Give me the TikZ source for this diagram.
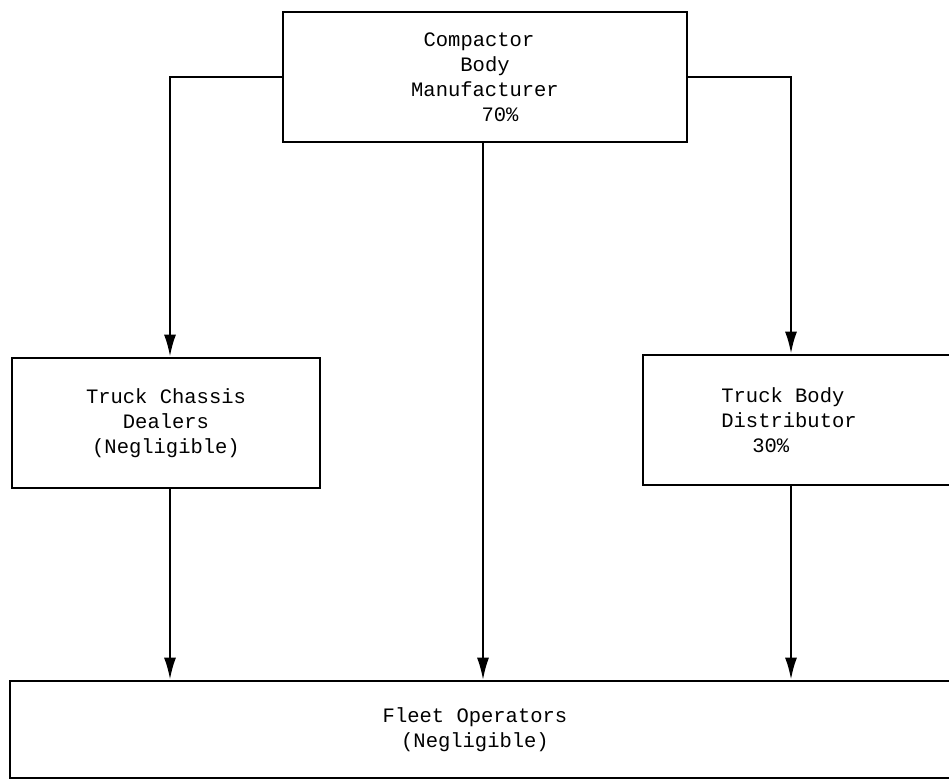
\documentclass[tikz,border=0pt]{standalone}
\usepackage{fontspec}
\setmonofont{Liberation Mono}
\usetikzlibrary{arrows.meta}
\begin{document}
\begin{tikzpicture}[x=1pt,y=-1pt,
  box/.style={draw, line width=2.6pt, rectangle, inner sep=0pt,
    font=\ttfamily\fontsize{20.5}{25}\selectfont, align=center},
  conn/.style={line width=2.3pt, -{Latex[length=22pt,width=12pt]}}]
\useasboundingbox (0,0) rectangle (949,781);
\node[box, minimum width=404pt, minimum height=130pt] (top) at (485,77)
  {Compactor\hspace*{12pt}\\Body\\Manufacturer\\\hspace*{30pt}70\%};
\node[box, minimum width=308pt, minimum height=130pt] (chassis) at (166,423)
  {Truck Chassis\\Dealers\\(Negligible)};
\node[box, minimum width=312pt, minimum height=130pt, align=left] (body) at (799,420)
  {\hspace*{-20pt}Truck Body\\\hspace*{-20pt}Distributor\\\hspace*{-20pt}\hspace*{31pt}30\%};
\node[box, minimum width=950pt, minimum height=97pt] (fleet) at (485,729.5)
  {Fleet Operators\hspace*{20pt}\\(Negligible)\hspace*{20pt}};
\draw[conn] (top.west) -| ([xshift=4pt]chassis.north);
\draw[conn] (top.east) -| ([xshift=-8pt]body.north);
\draw[conn, line width=1.7pt] ([xshift=-2pt]top.south) -- ([xshift=-2pt]top.south |- fleet.north);
\draw[conn] ([xshift=4pt]chassis.south) -- ([xshift=4pt]chassis.south |- fleet.north);
\draw[conn] ([xshift=-8pt]body.south) -- ([xshift=-8pt]body.south |- fleet.north);
\end{tikzpicture}
\end{document}
